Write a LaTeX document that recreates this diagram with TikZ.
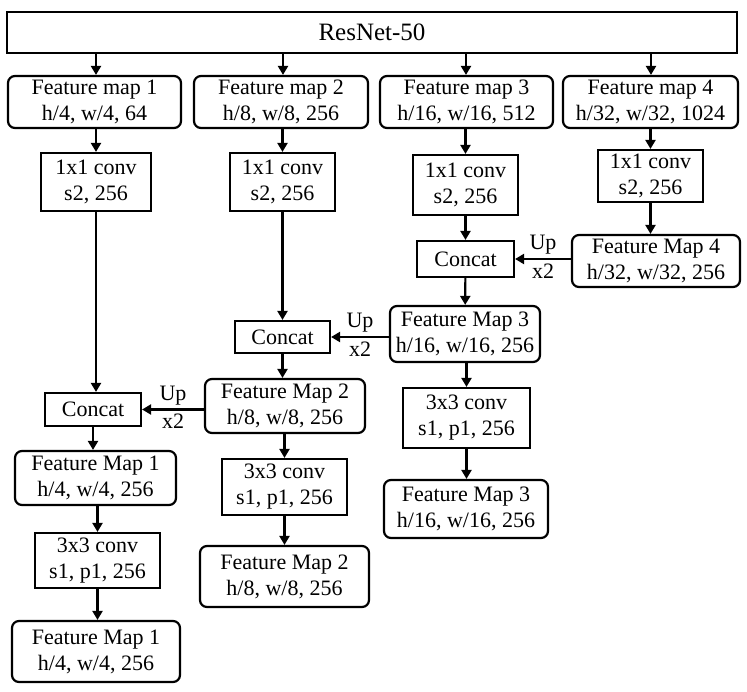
\documentclass[tikz,border=0pt]{standalone}
\usepackage{fontspec}
\setmainfont{Liberation Serif}
\usetikzlibrary{arrows.meta}

\tikzset{
  fmap/.style={draw, line width=2.2pt, rounded corners=7pt, align=center, inner sep=0pt},
  opbox/.style={draw, line width=2.2pt, align=center, inner sep=0pt},
  arr/.style={-{Triangle[length=9pt,width=10pt]}, line width=2.2pt}
}

\begin{document}
\begin{tikzpicture}[x=1pt,y=-1pt,font=\fontsize{22}{26}\selectfont]
            \useasboundingbox (0,0) rectangle (747,691);
            % backbone
            \node[opbox, minimum width=730, minimum height=41, font=\fontsize{25}{28}\selectfont] (resnet) at (372,32.5) {ResNet-50};
            \node[fmap, minimum width=173, minimum height=52] (fm1) at (94.5,102) {Feature map 1\\h/4, w/4, 64};
            \node[fmap, minimum width=174, minimum height=52] (fm2) at (281,102) {Feature map 2\\h/8, w/8, 256};
            \node[fmap, minimum width=173, minimum height=52] (fm3) at (466.5,102) {Feature map 3\\h/16, w/16, 512};
            \node[fmap, minimum width=175, minimum height=52] (fm4) at (650.5,102) {Feature map 4\\h/32, w/32, 1024};
            % 1x1 convs
            \node[opbox, minimum width=110, minimum height=58] (conva) at (96,182) {1x1 conv\\s2, 256};
            \node[opbox, minimum width=105, minimum height=58] (convb) at (282.5,182) {1x1 conv\\s2, 256};
            \node[opbox, minimum width=105, minimum height=60] (convc) at (465.5,185) {1x1 conv\\s2, 256};
            \node[opbox, minimum width=105, minimum height=52] (convd) at (650.5,176) {1x1 conv\\s2, 256};
            % top-down path
            \node[fmap, minimum width=168, minimum height=52] (fmd) at (656,261) {Feature Map 4\\h/32, w/32, 256};
            \node[opbox, minimum width=97, minimum height=36] (catc) at (465.5,259) {Concat};
            \node[fmap, minimum width=150, minimum height=56] (fmc) at (465,334) {Feature Map 3\\h/16, w/16, 256};
            \node[opbox, minimum width=95, minimum height=32] (catb) at (282.5,337) {Concat};
            \node[fmap, minimum width=160, minimum height=54] (fmb) at (285,406) {Feature Map 2\\h/8, w/8, 256};
            \node[opbox, minimum width=96, minimum height=33] (cata) at (93,409.5) {Concat};
            \node[fmap, minimum width=161, minimum height=54] (fma) at (95.5,478) {Feature Map 1\\h/4, w/4, 256};
            % 3x3 convs and outputs
            \node[opbox, minimum width=125, minimum height=55] (smootha) at (97.5,560.5) {3x3 conv\\s1, p1, 256};
            \node[fmap, minimum width=168, minimum height=61] (outa) at (96,651.5) {Feature Map 1\\h/4, w/4, 256};
            \node[opbox, minimum width=125, minimum height=56] (smoothb) at (284.5,487) {3x3 conv\\s1, p1, 256};
            \node[fmap, minimum width=169, minimum height=61] (outb) at (284.5,576.5) {Feature Map 2\\h/8, w/8, 256};
            \node[opbox, minimum width=127, minimum height=60] (smoothc) at (466.5,418) {3x3 conv\\s1, p1, 256};
            \node[fmap, minimum width=164, minimum height=58] (outc) at (466,509) {Feature Map 3\\h/16, w/16, 256};

            \foreach \f/\x in {fm1/96,fm2/283,fm3/466,fm4/651}
                \draw[arr] (\x,0 |- resnet.south) -- (\x,0 |- \f.north);
            \foreach \f/\c in {fm1/conva,fm2/convb,fm3/convc,fm4/convd}
                \draw[arr] (\c.north |- \f.south) -- (\c.north);
            \draw[arr] (convd.south) -- (convd.south |- fmd.north);
            \draw[arr] (conva.south) -- (conva.south |- cata.north);
            \draw[arr] (convb.south) -- (convb.south |- catb.north);
            \draw[arr] (convc.south) -- (convc.south |- catc.north);
            \draw[arr] (fmd.west |- catc) -- (catc.east) node[midway,above=0pt]{Up} node[midway,below=0pt]{x2};
            \draw[arr] (fmc.west |- catb) -- (catb.east) node[midway,above=0pt]{Up} node[midway,below=0pt]{x2};
            \draw[arr] (fmb.west |- cata) -- (cata.east) node[midway,above=0pt]{Up} node[midway,below=0pt]{x2};
            \draw[arr] (catc) -- (fmc);
            \draw[arr] (catb.south) -- (catb.south |- fmb.north);
            \draw[arr] (cata.south) -- (cata.south |- fma.north);
            \draw[arr] (fma.south -| smootha) -- (smootha);
            \draw[arr] (smootha) -- (smootha |- outa.north);
            \draw[arr] (fmb.south -| smoothb) -- (smoothb);
            \draw[arr] (smoothb) -- (smoothb |- outb.north);
            \draw[arr] (fmc.south -| smoothc) -- (smoothc);
            \draw[arr] (smoothc) -- (smoothc |- outc.north);
        \end{tikzpicture}
\end{document}
